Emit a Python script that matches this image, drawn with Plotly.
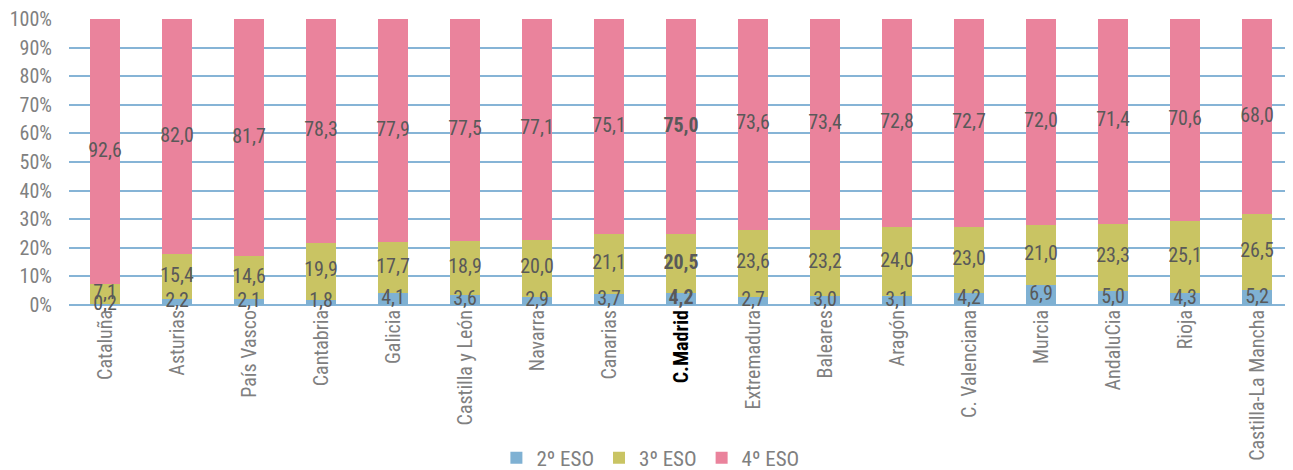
import plotly.graph_objects as go

categories = ["Cataluña", "Asturias", "País Vasco", "Cantabria", "Galicia", "Castilla y León",
              "Navarra", "Canarias", "C.Madrid", "Extremadura", "Baleares", "Aragón",
              "C. Valenciana", "Murcia", "AndaluCia", "Rioja", "Castilla-La Mancha"]
eso2 = [0.2, 2.2, 2.1, 1.8, 4.1, 3.6, 2.9, 3.7, 4.2, 2.7, 3.0, 3.1, 4.2, 6.9, 5.0, 4.3, 5.2]
eso3 = [7.1, 15.4, 14.6, 19.9, 17.7, 18.9, 20.0, 21.1, 20.5, 23.6, 23.2, 24.0, 23.0, 21.0, 23.3, 25.1, 26.5]
eso4 = [92.6, 82.0, 81.7, 78.3, 77.9, 77.5, 77.1, 75.1, 75.0, 73.6, 73.4, 72.8, 72.7, 72.0, 71.4, 70.6, 68.0]
series_names = ["2º ESO", "3º ESO", "4º ESO"]
colors = ["#7fb1d3", "#c9c463", "#ea839c"]
highlight = "C.Madrid"

FONT = "Liberation Sans Narrow, Roboto Condensed, Arial Narrow, Roboto, sans-serif"

def fmt(v, cat):
    s = f"{v:.1f}".replace(".", ",")
    return f"<b>{s}</b>" if cat == highlight else s

fig = go.Figure()
series = [eso2, eso3, eso4]
for name, vals, col in zip(series_names, series, colors):
    fig.add_trace(go.Bar(x=categories, y=vals, name=name, marker_color=col,
                         marker_line_width=0, width=0.42))

# label positions at normalized segment midpoints
lx, ly, lt = [], [], []
for i, cat in enumerate(categories):
    tot = eso2[i] + eso3[i] + eso4[i]
    base = 0
    for vals in series:
        v = vals[i]
        lx.append(cat)
        ly.append((base + v / 2) / tot * 100)
        lt.append(fmt(v, cat))
        base += v
fig.add_trace(go.Scatter(x=lx, y=ly, text=lt, mode="text", showlegend=False,
                         textfont=dict(family=FONT, size=20, color="#595959"),
                         hoverinfo="skip", cliponaxis=False))

ticktext = [f"<span style='color:black'><b>{c}</b></span>" if c == highlight else c for c in categories]

fig.update_layout(
    barmode="stack", barnorm="percent",
    width=1285, height=462,
    margin=dict(l=61, r=0, t=11, b=165, autoexpand=False),
    plot_bgcolor="white", paper_bgcolor="white",
    font=dict(family=FONT, color="#808080"),
    legend=dict(orientation="h", x=0.475, xanchor="center", y=-0.535, yanchor="middle",
                font=dict(family=FONT, size=21, color="#808080"), traceorder="normal",
                itemwidth=30),
    xaxis=dict(tickmode="array", tickvals=categories, ticktext=ticktext, tickangle=-90,
               tickfont=dict(family=FONT, size=20, color="#808080"), showgrid=False,
               showline=False, ticks="", range=[-0.5, 16.5], automargin=False,
               ticklabeloverflow="allow"),
    yaxis=dict(range=[0, 100], dtick=10, ticksuffix="%", showgrid=True, gridcolor="#86b4d6",
               gridwidth=2, zeroline=True, zerolinecolor="#86b4d6", zerolinewidth=2,
               tickfont=dict(family=FONT, size=20, color="#808080"), ticks="",
               ticklabelstandoff=16, automargin=False, ticklabeloverflow="allow"),
)
fig.write_html("out.html")
